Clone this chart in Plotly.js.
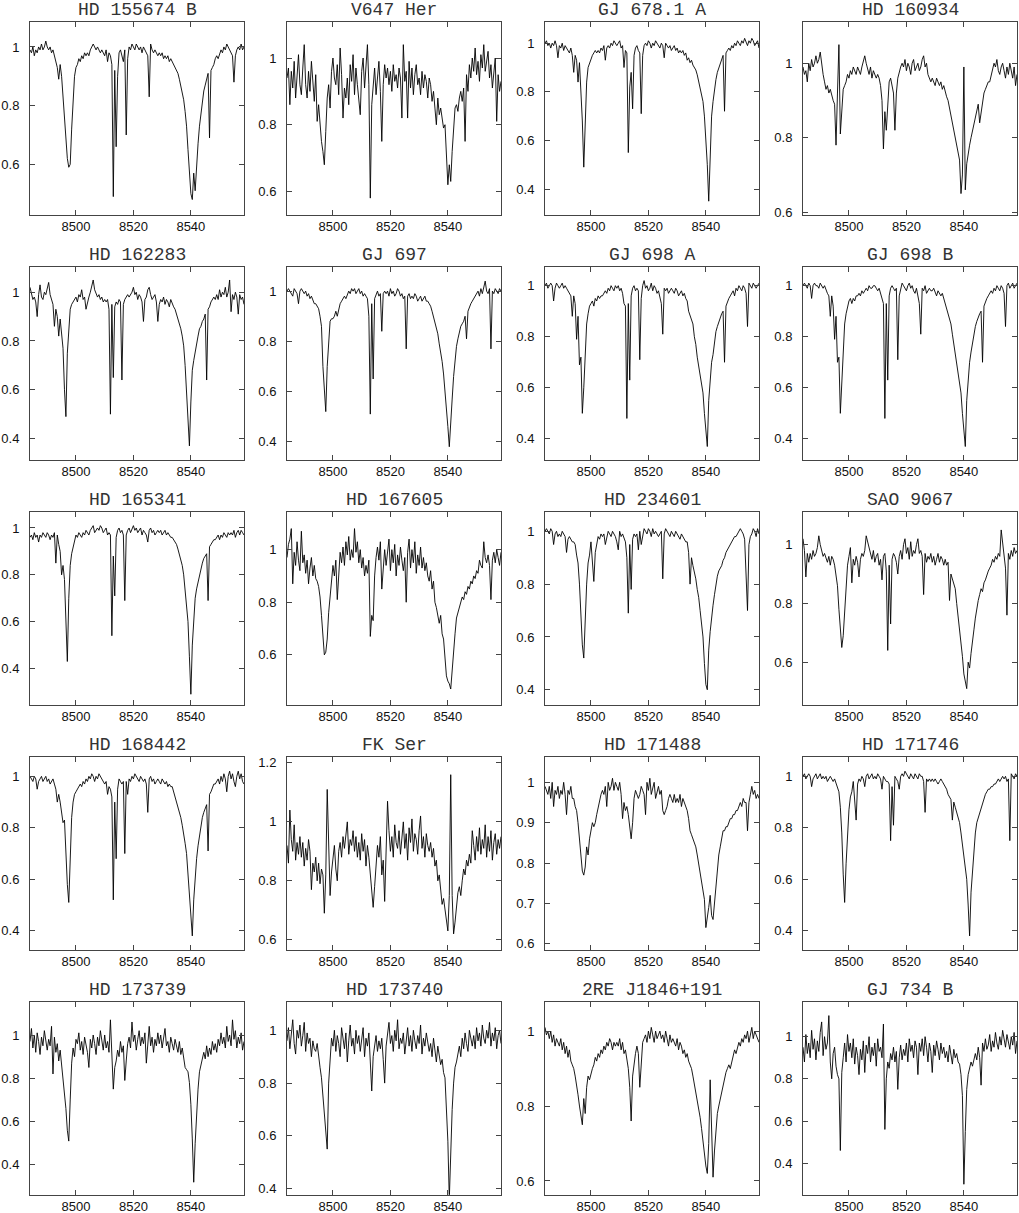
<!DOCTYPE html>
<html>
<head>
<meta charset="utf-8">
<script src="https://cdn.plot.ly/plotly-3.0.1.min.js"></script>
<style>
  html, body { margin: 0; padding: 0; background: #fff; }
  #chart { width: 1019px; height: 1213px; }
</style>
</head>
<body>
<div id="chart"></div>
<script>
// every spectrum is sampled every 0.5 A from 8484.0 to 8558.5 (150 points)
const wlStart = 8484.0;
const wlStep = 0.5;
const wlTicks = [8500, 8520, 8540];

// normalised flux, in percent of the continuum
const fluxHD155674B = [99,98,100,97,99,98,100,99,101,99, 100,102,100,99,100,98,99,97,96,93, 89,94,90,83,78,70,62,59,60,72, 84,90,93,94,96,95,97,96,98,97, 98,97,99,100,101,100,99,100,99,98, 99,98,97,99,95,98,97,94,49,92, 66,90,98,99,97,95,99,70,96,100, 99,101,100,99,101,100,99,100,98,100, 99,98,97,83,101,99,98,99,98,97, 98,97,98,96,97,96,97,95,96,95, 94,93,92,91,89,87,85,82,78,73, 65,57,50,48,57,51,61,67,73,77, 82,85,87,89,91,69,92,93,94,96, 97,96,98,99,98,100,99,101,100,99, 98,97,88,97,99,100,99,101,99,100];
const fluxV647Her = [94,97,86,96,91,99,88,95,101,92, 89,97,104,92,88,96,90,99,93,87, 95,81,86,80,75,72,68,78,88,92, 85,96,100,94,92,98,89,103,95,82, 91,88,94,86,98,93,101,89,97,92, 88,83,96,100,91,97,104,92,58,86, 93,97,89,95,99,90,75,92,98,94, 97,92,96,90,98,93,95,91,97,94, 82,104,93,96,82,99,91,97,89,95, 98,92,94,89,96,91,95,93,88,94, 92,87,90,85,80,88,83,85,81,79, 80,70,62,68,63,72,79,85,86,84, 88,90,87,91,75,95,90,98,94,100, 96,103,95,99,93,101,97,104,96,99, 102,94,98,91,97,100,81,95,90,93];
const fluxGJ6781A = [100,101,99,100,98,100,99,101,99,94, 99,98,100,97,99,98,97,96,98,95, 88,95,93,84,92,82,68,49,66,84, 90,92,93,95,96,97,96,97,96,98, 97,99,93,98,99,98,100,99,101,100, 99,100,101,98,99,90,97,96,55,82, 88,73,95,98,99,97,96,71,95,99, 100,99,101,100,98,100,99,101,100,99, 98,100,99,94,100,99,98,99,97,98, 99,97,98,96,97,96,97,95,96,93, 94,92,93,91,90,89,87,84,81,78, 76,70,62,50,35,58,70,76,82,85, 88,90,92,93,95,72,96,97,98,97, 99,98,100,99,101,100,99,101,100,102, 100,99,101,100,102,101,99,100,101,98];
const fluxHD160934 = [99,97,98,95,100,98,101,99,100,102, 100,101,103,99,97,95,93,94,92,93, 91,90,89,78,92,105,81,88,93,94, 95,97,96,98,97,99,98,97,99,98, 97,99,101,102,100,98,97,99,96,98, 97,96,97,96,94,90,77,87,82,90, 95,96,94,92,82,92,96,98,99,100, 99,101,98,100,99,97,100,101,98,99, 100,98,99,101,102,99,100,97,96,95, 96,95,94,96,95,94,95,93,94,92, 91,90,88,86,85,83,81,79,76,74, 65,70,99,66,73,76,78,80,82,83, 86,88,89,84,87,90,92,93,94,95, 95,97,98,100,99,101,98,97,99,100, 98,96,99,97,100,98,96,99,94,97];
const fluxHD162283 = [102,99,97,98,96,90,99,103,98,97, 100,99,102,104,99,97,95,86,93,90, 82,89,84,77,60,49,75,85,93,95, 96,97,98,96,99,98,101,97,98,93, 96,98,100,102,105,101,99,98,99,97, 98,96,97,96,97,93,50,95,65,94, 96,95,97,96,64,95,97,98,99,98, 99,100,102,99,100,97,99,98,96,88, 97,98,101,102,99,97,98,99,96,88, 95,97,96,98,95,97,96,94,97,95, 94,93,91,90,88,85,82,78,70,60, 48,37,55,68,72,76,78,82,85,86, 88,89,91,64,93,94,96,97,98,97, 99,97,101,98,100,99,102,98,100,105, 92,99,97,100,98,91,99,97,98,95];
const fluxGJ697 = [100,101,100,99,98,101,100,99,95,100, 101,100,99,100,98,99,97,98,96,95, 95,94,93,90,86,70,60,52,70,80, 88,89,89,90,92,90,93,95,96,97, 98,97,99,100,99,101,100,101,99,100, 101,99,100,98,99,98,97,90,51,95, 65,97,99,100,98,99,84,99,100,99, 100,98,101,99,100,98,99,101,100,98, 99,97,98,77,98,99,97,98,97,99, 98,96,97,98,96,97,98,96,96,95, 94,92,90,88,86,83,79,76,72,67, 61,54,46,38,50,57,66,74,78,81, 84,86,87,88,90,81,92,94,95,96, 97,98,99,100,98,101,99,102,104,100, 99,101,77,100,99,101,100,99,101,100];
const fluxGJ698A = [100,101,99,100,101,100,94,99,101,100, 99,100,101,99,100,99,98,97,96,88, 96,93,79,88,69,72,50,60,72,85, 89,92,93,94,92,95,94,96,95,96, 96,97,98,97,99,98,100,99,98,100, 99,100,98,99,97,93,92,48,93,63, 96,99,100,98,99,98,71,95,100,102, 99,100,98,99,101,98,100,99,97,98, 96,93,81,99,98,99,97,98,99,98, 97,99,98,96,97,98,96,97,95,94, 90,88,87,85,80,77,72,68,64,60, 58,50,42,37,55,65,70,73,78,82, 84,86,88,89,90,70,92,94,95,96, 97,98,96,99,98,100,99,98,100,99, 97,84,101,100,99,101,100,99,100,101];
const fluxGJ698B = [100,101,100,99,101,100,95,100,101,100, 100,99,101,100,99,100,98,97,96,88, 96,92,79,88,70,72,50,61,73,85, 89,92,94,95,93,95,94,96,96,97, 96,98,97,98,99,98,100,99,99,100, 100,99,98,99,97,94,93,48,93,63, 96,99,100,99,98,99,71,96,99,101, 100,99,98,100,101,99,100,98,97,99, 96,93,81,99,98,100,97,98,99,98, 98,99,97,96,98,97,96,97,95,94, 91,89,87,85,81,77,73,68,64,60, 58,50,42,37,55,64,70,74,78,82, 84,86,88,89,90,70,92,94,95,96, 97,98,97,99,98,100,99,98,100,99, 97,84,100,101,99,100,101,99,100,101];
const fluxHD165341 = [96,97,95,98,96,97,94,97,96,98, 97,96,98,97,95,97,96,98,85,97, 93,90,80,84,78,62,43,70,84,89, 92,95,97,96,98,97,96,98,97,99, 98,97,99,100,101,98,99,100,99,101, 100,98,99,100,97,98,97,54,88,71, 96,99,100,98,99,97,69,97,99,100, 98,100,101,99,100,98,99,100,97,99, 98,97,94,99,100,98,99,97,98,99, 98,99,97,98,99,97,98,97,96,96, 95,94,93,91,89,87,84,80,72,68, 60,45,29,50,62,70,74,77,80,83, 85,87,88,89,69,92,93,94,95,95, 96,97,95,97,96,98,97,96,98,97, 98,97,99,96,98,99,97,99,98,97];
const fluxHD167605 = [97,102,104,108,87,99,94,103,96,92, 107,95,98,91,96,87,93,97,90,94, 89,88,86,82,75,68,60,61,66,76, 83,88,94,90,96,81,92,99,95,101, 94,103,98,105,96,100,97,108,99,103, 95,100,93,97,90,94,91,96,67,75, 73,90,97,101,96,103,85,92,100,94, 98,104,92,100,95,102,90,98,94,101, 96,92,97,80,99,104,93,100,95,103, 91,98,94,101,93,97,92,95,90,88, 92,85,88,80,78,74,72,75,68,66, 60,52,50,49,47,55,62,68,74,76, 79,80,82,81,84,83,86,85,88,87, 90,89,92,91,96,94,93,103,97,95, 98,94,81,96,99,95,100,97,94,99];
const fluxHD234601 = [100,101,100,99,101,100,95,99,100,98, 99,98,100,99,98,92,97,98,97,96, 96,95,91,88,80,68,57,52,68,80, 88,91,96,88,81,92,96,98,97,99, 98,99,95,98,100,99,98,100,99,98, 96,93,100,98,99,97,96,90,69,95, 78,97,99,98,99,93,100,95,99,101, 100,99,101,100,98,101,99,100,99,98, 99,100,82,99,101,100,99,98,100,99, 98,100,99,98,97,99,98,97,96,96, 92,80,90,87,85,82,78,75,70,65, 60,50,42,40,55,62,68,72,76,80, 83,85,86,87,89,90,92,93,94,95, 96,97,98,98,99,100,101,100,99,97, 85,70,95,98,99,101,100,98,101,99];
const fluxSAO9067 = [102,98,89,97,94,97,95,98,96,97, 99,103,100,98,96,97,95,94,96,93, 96,95,93,90,86,78,70,65,69,77, 86,93,96,99,87,95,93,96,94,89, 95,97,96,98,103,101,99,97,95,98, 94,96,97,93,95,88,96,97,91,64, 93,73,95,97,96,94,90,96,98,95, 100,102,97,99,95,101,96,98,97,100, 102,97,98,96,83,97,94,96,95,97, 94,96,93,95,97,94,96,95,93,95, 93,94,81,90,88,87,85,80,76,72, 67,62,56,53,51,60,58,63,68,71, 75,79,81,83,85,84,87,88,90,91, 92,93,95,94,96,95,97,96,105,100, 96,92,76,97,95,98,96,99,97,98];
const fluxHD168442 = [100,99,98,100,99,95,98,99,100,98, 99,100,98,99,97,98,99,97,95,90, 93,90,86,82,83,70,58,51,65,84, 90,93,94,95,96,97,96,98,97,99, 98,100,99,101,100,98,100,99,101,100, 99,98,97,98,93,96,95,92,52,90, 68,95,99,98,97,98,70,98,93,99, 98,100,99,101,100,99,98,100,99,98, 99,97,86,99,100,98,99,97,98,99, 98,97,99,98,97,98,96,97,96,96, 94,93,91,89,87,84,81,78,74,70, 62,54,45,38,52,61,68,73,77,81, 84,86,88,89,71,93,94,96,97,97, 98,99,97,100,98,101,99,94,100,102, 99,101,98,96,100,102,99,101,98,97];
const fluxFKSer = [92,86,104,94,90,99,87,93,89,95, 88,93,85,91,87,94,90,77,86,83, 88,80,86,79,84,82,69,82,111,90, 75,83,87,92,84,80,90,93,88,95, 91,96,100,89,94,92,97,90,95,88, 93,87,96,90,94,85,92,88,82,78, 71,78,85,92,88,95,82,87,73,92, 107,97,90,95,88,99,93,91,97,89, 95,100,91,96,87,98,93,101,90,96, 94,89,97,102,91,95,88,96,92,90, 93,88,91,85,87,80,82,78,72,74, 70,66,63,75,116,75,62,66,72,76, 78,75,80,84,82,87,85,89,86,97, 92,87,95,90,98,89,94,91,99,88, 95,90,97,87,93,96,89,94,91,95];
const fluxHD171488 = [99,98,97,99,96,100,94,98,97,99, 96,98,97,100,97,92,98,97,99,96, 96,94,93,90,86,81,78,77,79,84, 82,86,88,90,89,90,92,94,96,97, 98,97,99,94,100,98,99,101,98,100, 99,98,100,97,91,95,93,94,92,89, 86,90,96,98,97,96,97,99,98,97, 92,100,98,101,97,99,100,96,98,99, 97,98,93,92,93,94,96,97,96,95, 97,95,96,95,97,94,96,95,94,93, 91,88,87,86,85,84,82,80,77,75, 74,71,64,66,69,72,67,66,70,74, 79,82,84,86,88,88,89,89,90,91, 91,92,92,93,93,94,95,94,96,95, 95,88,95,97,99,97,98,96,97,96];
const fluxHD171746 = [100,101,99,100,101,100,96,99,100,101, 99,100,101,99,100,99,100,98,99,100, 99,98,99,97,96,94,88,78,62,51, 66,78,87,92,94,98,88,83,97,99, 98,100,99,96,100,101,99,100,101,99, 100,99,101,100,99,95,100,99,98,98, 97,75,96,81,100,99,98,95,100,101, 100,102,101,100,99,101,100,99,101,100, 99,101,100,100,98,86,99,98,99,98, 99,98,99,98,97,98,99,98,97,96, 95,93,92,91,83,90,88,86,85,82, 78,74,70,66,60,50,38,55,63,73, 78,82,84,86,88,90,91,93,94,95, 95,96,96,97,97,98,99,98,99,100, 99,100,98,99,75,101,100,99,101,100];
const fluxHD173739 = [97,103,94,100,92,101,97,91,99,95, 102,96,93,98,95,104,82,99,92,96, 88,93,86,82,75,66,56,51,70,87, 94,90,98,96,101,93,97,91,99,95, 92,85,98,94,100,96,91,99,95,102, 96,93,100,94,97,92,107,90,75,85, 88,93,90,97,92,95,79,88,96,99, 94,106,97,100,93,98,102,95,99,96, 101,87,97,104,95,99,92,98,95,101, 96,100,94,98,103,95,97,92,99,96, 93,98,95,92,97,91,94,89,85,84, 83,78,68,52,32,50,65,75,83,86, 88,92,89,95,90,94,91,97,93,96, 92,98,95,101,96,99,94,104,97,100, 95,107,98,102,94,99,96,101,93,97];
const fluxHD173740 = [96,101,93,99,104,95,91,100,97,102, 94,98,103,92,99,95,97,90,96,93, 92,95,89,86,82,76,70,63,55,80, 91,97,94,100,92,98,95,90,101,96, 93,99,88,96,102,94,97,91,100,95, 98,92,96,101,90,97,94,99,88,77, 90,95,98,92,96,93,97,89,80,94, 99,103,95,98,92,100,96,104,93,97, 95,99,91,97,101,94,98,92,100,96, 93,98,95,102,91,97,94,99,96,92, 95,90,97,93,88,94,91,87,89,84, 82,72,58,36,55,70,80,86,88,91, 94,90,97,93,99,95,92,100,96,94, 98,93,101,96,99,94,102,97,95,100, 97,103,94,99,96,101,93,98,100,95];
const flux2REJ1846 = [101,99,100,98,100,97,99,96,98,97, 96,98,95,97,94,96,93,95,92,91, 90,88,86,83,80,78,75,82,78,85, 88,87,89,90,91,93,92,94,93,95, 94,96,95,97,96,98,97,95,97,96, 97,96,98,95,97,94,95,93,90,85, 76,88,92,94,96,94,85,93,97,98, 99,97,100,98,101,99,97,100,98,99, 100,98,99,97,100,98,96,99,97,98, 97,96,98,95,97,96,94,95,93,94, 92,91,90,88,86,84,82,80,77,74, 70,66,64,62,70,87,72,61,68,74, 78,80,82,84,86,87,89,90,91,90, 92,93,95,94,96,97,96,98,97,99, 98,100,97,99,101,98,100,99,98,97];
const fluxGJ734B = [95,88,101,92,97,90,103,94,99,89, 98,93,102,107,91,100,94,97,110,88, 80,92,95,86,82,80,46,83,90,97, 88,101,93,97,90,99,87,95,91,82, 94,89,98,83,96,92,100,88,95,91, 97,86,99,93,95,90,106,56,80,88, 85,92,89,95,88,93,75,90,96,89, 94,91,97,88,99,93,96,90,98,95, 82,97,93,99,91,100,95,88,97,93, 83,96,91,98,94,89,97,92,95,90, 93,88,96,91,87,94,90,92,88,87, 82,72,30,55,75,82,85,88,86,90, 92,89,95,90,77,97,93,99,94,96, 101,93,98,95,102,97,94,100,96,103, 98,95,101,97,94,100,96,102,92,98];

const starNames = ['HD 155674 B', 'V647 Her', 'GJ 678.1 A', 'HD 160934',
                   'HD 162283', 'GJ 697', 'GJ 698 A', 'GJ 698 B',
                   'HD 165341', 'HD 167605', 'HD 234601', 'SAO 9067',
                   'HD 168442', 'FK Ser', 'HD 171488', 'HD 171746',
                   'HD 173739', 'HD 173740', '2RE J1846+191', 'GJ 734 B'];
const spectra = [fluxHD155674B, fluxV647Her, fluxGJ6781A, fluxHD160934,
                 fluxHD162283, fluxGJ697, fluxGJ698A, fluxGJ698B,
                 fluxHD165341, fluxHD167605, fluxHD234601, fluxSAO9067,
                 fluxHD168442, fluxFKSer, fluxHD171488, fluxHD171746,
                 fluxHD173739, fluxHD173740, flux2REJ1846, fluxGJ734B];

// layout: y range of every panel, and a finer tick step for HD 171488
const yRanges = [[0.428, 1.084], [0.53, 1.107], [0.294, 1.086], [0.593, 1.11],
                 [0.313, 1.102], [0.328, 1.095], [0.318, 1.072], [0.318, 1.072],
                 [0.245, 1.067], [0.41, 1.142], [0.343, 1.072], [0.455, 1.11],
                 [0.326, 1.074], [0.566, 1.219], [0.585, 1.062], [0.326, 1.074],
                 [0.262, 1.151], [0.377, 1.106], [0.563, 1.077], [0.25, 1.163]];
const yStep = [0.2, 0.2, 0.2, 0.2, 0.2, 0.2, 0.2, 0.2, 0.2, 0.2,
               0.2, 0.2, 0.2, 0.2, 0.1, 0.2, 0.2, 0.2, 0.2, 0.2];

const W = 1019, H = 1213;
const colLeft = [30, 287, 545, 803];
const panelW = 214, panelH = 192.5;
const rowTop0 = 22.3, rowGap = 245;

const tickFont = { family: 'Liberation Sans, Arial, sans-serif', size: 13, color: '#111' };
const frame = {
  ticks: 'inside', ticklen: 5, tickwidth: 1, tickcolor: '#444',
  mirror: 'ticks', showline: true, linecolor: '#444', linewidth: 1,
  showgrid: false, zeroline: false, tickfont: tickFont, fixedrange: true
};

const traces = [];
const annotations = [];
const layout = {
  width: W, height: H,
  margin: { l: 0, r: 0, t: 0, b: 0 },
  paper_bgcolor: '#fff', plot_bgcolor: '#fff',
  showlegend: false,
  annotations: annotations
};

starNames.forEach((name, k) => {
  const row = Math.floor(k / 4), col = k % 4;
  const sfx = k === 0 ? '' : String(k + 1);
  const left = colLeft[col];
  const top = rowTop0 + row * rowGap;

  traces.push({
    type: 'scatter', mode: 'lines',
    x0: wlStart, dx: wlStep,
    y: spectra[k].map(v => v / 100),
    xaxis: 'x' + sfx, yaxis: 'y' + sfx,
    line: { color: '#000', width: 0.9 },
    hoverinfo: 'skip'
  });

  layout['xaxis' + sfx] = Object.assign({}, frame, {
    domain: [left / W, (left + panelW) / W],
    anchor: 'y' + sfx,
    range: [8484, 8558.5],
    tickmode: 'array', tickvals: wlTicks,
    ticklabelstandoff: 0
  });
  layout['yaxis' + sfx] = Object.assign({}, frame, {
    domain: [1 - (top + panelH) / H, 1 - top / H],
    anchor: 'x' + sfx,
    range: yRanges[k],
    tick0: 0, dtick: yStep[k],
    ticklabelstandoff: 7
  });

  annotations.push({
    text: name, showarrow: false,
    xref: 'x' + sfx + ' domain', yref: 'y' + sfx + ' domain',
    x: 0.5, y: 1, xanchor: 'center', yanchor: 'middle', yshift: 12,
    font: { family: 'Liberation Mono, Courier New, monospace', size: 18, color: '#333' }
  });
});

Plotly.newPlot('chart', traces, layout, { staticPlot: true, displayModeBar: false });
</script>
</body>
</html>
